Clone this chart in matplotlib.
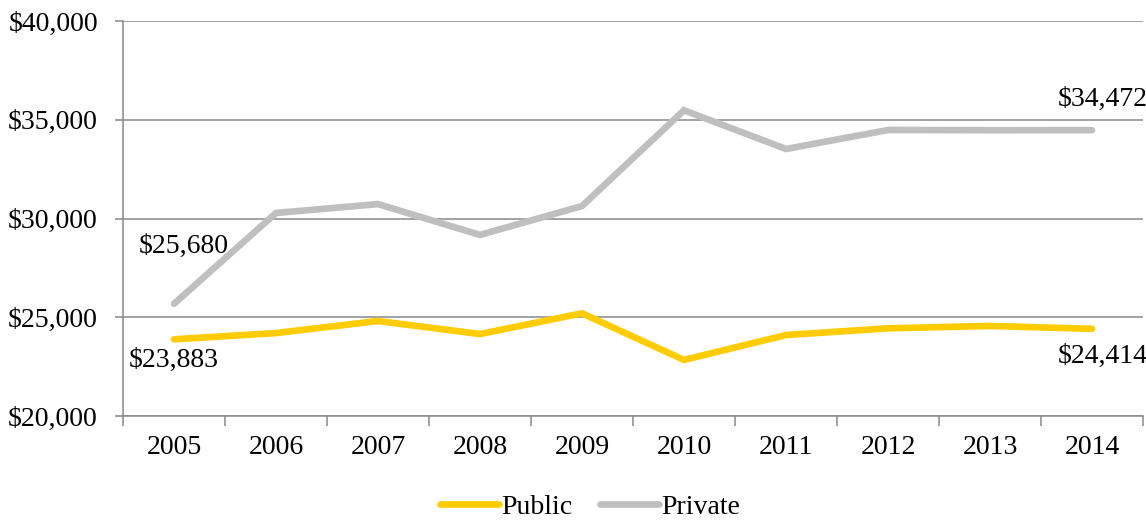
import matplotlib.pyplot as plt
from matplotlib.lines import Line2D
from matplotlib.ticker import FuncFormatter, MultipleLocator, FixedLocator

years = ['2005', '2006', '2007', '2008', '2009', '2010', '2011', '2012', '2013', '2014']
public = [23883, 24200, 24810, 24150, 25200, 22840, 24100, 24440, 24560, 24414]
private = [25680, 30280, 30730, 29170, 30630, 35480, 33520, 34480, 34470, 34472]

col_public = '#FFCC00'
col_private = '#BFBFBF'
col_grid = '#898989'
fonte = 'Liberation Serif'
fs = 20

plt.rcParams['font.family'] = fonte

fig = plt.figure(figsize=(11.46, 5.21), dpi=100)
ax = fig.add_axes([0.1073, 0.2015, 0.8901, 0.7582])

x = list(range(len(years)))
ax.plot(x, public, color=col_public, lw=4.8, solid_capstyle='round', solid_joinstyle='miter', zorder=3)
ax.plot(x, private, color=col_private, lw=4.8, solid_capstyle='round', solid_joinstyle='miter', zorder=3)

ax.set_xlim(-0.5, len(years) - 0.5)
ax.set_ylim(20000, 40000)
ax.yaxis.set_major_locator(MultipleLocator(5000))
ax.yaxis.set_major_formatter(FuncFormatter(lambda v, p: f"${v:,.0f}"))
ax.grid(axis='y', color=col_grid, lw=1.1, zorder=1)

ax.set_xticks(x)
ax.set_xticklabels(years)
ax.xaxis.set_minor_locator(FixedLocator([i - 0.5 for i in range(len(years) + 1)]))
ax.tick_params(axis='x', which='major', length=0, pad=14, labelsize=fs)
ax.tick_params(axis='x', which='minor', length=7, width=1.1, color=col_grid)
ax.tick_params(axis='y', length=6, width=1.1, color=col_grid, pad=12, labelsize=fs)

for s in ['top', 'right']:
    ax.spines[s].set_visible(False)
for s in ['left', 'bottom']:
    ax.spines[s].set_color(col_grid)
    ax.spines[s].set_linewidth(1.1)

# rótulos de dados (primeiro e último ano)
ax.annotate(f"${private[0]:,}", (x[0], private[0]), xytext=(7, 41), textcoords='offset points',
            ha='center', va='center', fontsize=fs)
ax.annotate(f"${public[0]:,}", (x[0], public[0]), xytext=(0, -15), textcoords='offset points',
            ha='center', va='center', fontsize=fs)
ax.annotate(f"${private[-1]:,}", (x[-1], private[-1]), xytext=(8, 22), textcoords='offset points',
            ha='center', va='center', fontsize=fs, annotation_clip=False)
ax.annotate(f"${public[-1]:,}", (x[-1], public[-1]), xytext=(8, -20), textcoords='offset points',
            ha='center', va='center', fontsize=fs, annotation_clip=False)

handles = [Line2D([], [], color=col_public, lw=4.8, solid_capstyle='round'),
           Line2D([], [], color=col_private, lw=4.8, solid_capstyle='round')]
fig.legend(handles, ['Public', 'Private'], loc='center', bbox_to_anchor=(0.515, 0.027), ncol=2,
           frameon=False, fontsize=fs, handlelength=2.1, handletextpad=0.1, columnspacing=1.0)

fig.savefig('out.png', dpi=100)
